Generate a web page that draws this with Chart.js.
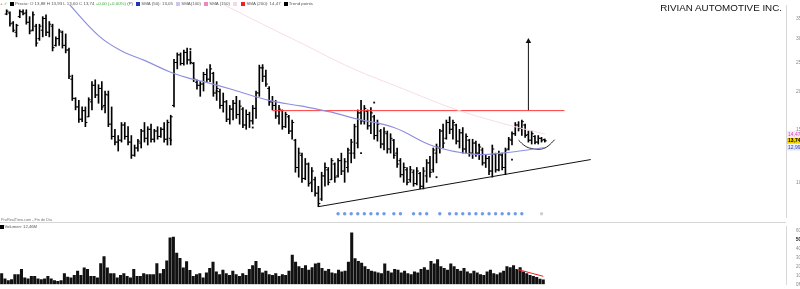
<!DOCTYPE html>
<html>
<head>
<meta charset="utf-8">
<script src="https://cdn.jsdelivr.net/npm/chart.js@4.4.1/dist/chart.umd.min.js"></script>
<style>
  html, body { margin: 0; padding: 0; background: #fff; }
  #wrap { position: relative; width: 800px; height: 289px; overflow: hidden; font-family: "Liberation Sans", Arial, sans-serif; }
  #price { position: absolute; left: 0; top: 0; }
  #volume { position: absolute; left: 0; top: 222px; }
  #sep { position: absolute; left: 0; top: 222px; width: 786px; height: 0; border-top: 1px solid #d6d6d6; }
  #title { position: absolute; right: 18px; top: 3px; font-size: 9.8px; line-height: 10px; color: #111; white-space: nowrap; }
  #legend { position: absolute; left: 0; top: 1px; font-size: 4.4px; line-height: 5px; color: #555; white-space: nowrap; }
  #legend .sq { display: inline-block; width: 4px; height: 4px; margin: 0 1px 0 2px; vertical-align: -0.5px; }
  #source { position: absolute; left: 1px; top: 218px; font-size: 3.8px; line-height: 4px; color: #777; white-space: nowrap; }
  #vollegend { position: absolute; left: 0; top: 224px; font-size: 4.2px; line-height: 5px; color: #555; white-space: nowrap; }
  #vollegend .sq { display: inline-block; width: 3.5px; height: 3.5px; background: #000; margin-right: 1px; vertical-align: -0.5px; }
</style>
</head>
<body>
<div id="wrap">
  <canvas id="price" width="800" height="222"></canvas>
  <canvas id="volume" width="800" height="67"></canvas>
  <div id="sep"></div>
  <div id="title">RIVIAN AUTOMOTIVE INC.</div>
  <div id="legend">
    <span style="color:#e33">+</span> <span style="color:#3a3">&#10003;</span>
    <span class="sq" style="background:#000"></span>Precio: O 13,88 H 13,93 L 13,60 C 13,74
    <span style="color:#3a3">+0,00 (+0,00%)</span> (P)
    <span class="sq" style="background:#2233bb"></span>SMA (50): 13,05
    <span class="sq" style="background:#c7c7ef"></span>SMA(100)
    <span class="sq" style="background:#ee88bb"></span>SMA (150)
    <span class="sq" style="background:#f8d6e2"></span>
    <span class="sq" style="background:#ee2222"></span>SMA (200): 14,47
    <span class="sq" style="background:#000"></span>Trend points
  </div>
  <div id="source">ProRealTime.com - Fin de Día</div>
  <div id="vollegend"><span class="sq"></span>Volumen: 12,46M</div>
</div>
<script>
// weekly bars, oldest first
const OPEN = [
  36.2, 36.5, 33.8, 31.5, 35.5, 36.8, 36.5, 34.0, 32.0, 33.0, 30.0, 32.0, 35.0, 31.5, 33.0, 28.5, 30.0, 31.5, 28.5, 27.5,
  22.0, 19.0, 17.8, 16.2, 17.3, 16.5, 18.5, 21.0, 19.5, 20.5, 18.0, 19.5, 15.6, 14.2, 13.6, 13.8, 15.5, 14.2, 13.6, 12.3,
  13.0, 13.5, 14.8, 14.0, 15.0, 13.9, 14.8, 14.2, 15.0, 13.9, 14.0, 18.0, 25.0, 26.5, 24.8, 27.0, 25.5, 24.8, 21.5, 21.0,
  21.2, 22.8, 22.0, 23.0, 19.8, 20.0, 18.0, 18.5, 16.2, 17.5, 18.3, 16.8, 17.5, 15.5, 16.8, 16.0, 17.6, 19.8, 24.0, 22.5,
  20.5, 18.5, 18.0, 16.6, 17.3, 15.3, 16.5, 14.8, 13.8, 11.2, 12.3, 10.3, 11.5, 10.0, 10.2, 9.2, 8.8, 10.5, 11.0, 10.2,
  11.5, 10.5, 11.8, 10.9, 11.2, 12.5, 12.5, 13.5, 17.0, 16.0, 17.2, 15.4, 16.5, 14.3, 14.8, 13.4, 14.5, 12.9, 13.8, 12.5,
  11.8, 10.6, 11.0, 10.2, 10.8, 9.9, 10.7, 9.7, 10.5, 11.6, 11.0, 12.5, 13.0, 14.8, 14.0, 15.8, 15.0, 15.5, 13.7, 14.6,
  12.9, 13.8, 12.5, 13.5, 12.5, 12.8, 11.6, 12.0, 10.9, 12.4, 11.0, 12.3, 11.2, 12.9, 13.8, 14.5, 15.5, 15.1, 15.5, 14.4,
  13.8, 14.2, 13.6, 14.0, 13.88
];
const HIGH = [
  37.4, 36.8, 34.2, 33.5, 37.4, 37.4, 37.4, 35.5, 36.8, 33.5, 33.5, 35.5, 36.0, 34.2, 33.5, 30.4, 32.3, 31.8, 31.1, 27.9,
  22.7, 19.1, 18.7, 17.8, 17.8, 19.1, 21.6, 21.9, 21.1, 21.6, 20.1, 20.1, 17.8, 15.0, 14.3, 15.8, 15.8, 15.3, 14.3, 13.3,
  13.9, 15.0, 15.8, 15.3, 15.6, 15.0, 15.3, 15.2, 15.8, 16.1, 16.7, 25.6, 26.9, 26.9, 27.5, 27.9, 27.3, 25.0, 21.9, 21.6,
  23.2, 23.8, 24.6, 23.2, 21.6, 20.4, 19.8, 18.7, 18.0, 18.7, 19.3, 18.7, 17.7, 17.4, 17.1, 18.0, 20.1, 24.5, 24.6, 23.6,
  20.8, 19.3, 18.7, 18.0, 17.4, 17.1, 16.7, 16.1, 13.9, 13.0, 12.5, 12.0, 11.6, 11.2, 10.4, 9.7, 10.8, 11.6, 11.2, 12.0,
  11.6, 12.0, 12.5, 12.0, 13.0, 13.9, 15.6, 17.4, 18.7, 18.0, 17.4, 17.7, 16.7, 16.1, 15.0, 15.2, 14.8, 14.5, 13.9, 13.0,
  12.0, 11.6, 11.2, 11.3, 11.0, 11.2, 10.8, 11.2, 11.9, 12.2, 13.0, 13.4, 15.0, 15.6, 16.1, 16.5, 16.1, 15.6, 15.0, 15.2,
  14.5, 13.9, 13.9, 13.7, 13.4, 13.0, 12.3, 12.2, 13.3, 12.5, 12.7, 12.5, 13.0, 14.1, 14.7, 15.8, 15.9, 16.1, 15.6, 14.8,
  14.8, 14.3, 14.3, 14.1, 13.93
];
const LOW = [
  36.0, 33.0, 31.6, 30.4, 35.2, 36.0, 33.5, 31.1, 31.8, 28.3, 29.6, 30.4, 30.7, 30.4, 27.3, 28.3, 28.5, 27.9, 26.9, 22.1,
  18.7, 17.4, 15.8, 15.9, 15.3, 16.5, 17.4, 19.1, 18.3, 17.4, 17.0, 15.3, 13.9, 13.3, 12.7, 13.6, 13.9, 13.3, 12.0, 12.2,
  12.7, 13.0, 13.6, 13.3, 13.6, 13.6, 13.9, 14.1, 13.6, 13.3, 13.3, 17.8, 23.8, 24.5, 24.5, 24.7, 24.7, 21.6, 20.4, 19.3,
  20.1, 21.6, 21.6, 19.3, 18.7, 17.6, 17.1, 15.9, 15.6, 16.1, 16.3, 15.6, 15.2, 15.0, 15.2, 15.6, 16.3, 19.3, 21.6, 20.8,
  18.0, 17.4, 16.3, 15.6, 15.0, 15.2, 14.5, 13.9, 10.8, 10.4, 10.0, 10.2, 9.7, 9.3, 9.0, 8.3, 8.7, 9.7, 9.8, 10.2,
  10.0, 10.4, 10.6, 10.0, 10.8, 11.6, 12.0, 13.0, 15.6, 15.6, 15.0, 14.5, 13.9, 13.7, 13.0, 12.8, 12.5, 12.5, 12.0, 11.2,
  10.4, 10.0, 9.8, 10.0, 9.7, 9.8, 9.5, 9.5, 10.0, 10.4, 10.8, 11.6, 12.5, 13.0, 13.9, 14.5, 13.9, 13.4, 13.0, 12.5,
  12.5, 12.2, 12.0, 12.2, 11.9, 11.4, 11.2, 10.6, 10.4, 10.8, 10.9, 11.0, 10.6, 12.8, 13.3, 14.3, 14.8, 14.3, 14.1, 13.6,
  13.4, 13.4, 13.4, 13.6, 13.60
];
const CLOSE = [
  37.0, 33.6, 32.0, 33.2, 36.9, 36.3, 34.0, 31.8, 36.0, 29.0, 33.0, 35.0, 31.5, 33.5, 28.0, 30.0, 31.8, 28.5, 27.5, 22.5,
  19.0, 17.8, 16.2, 17.3, 15.8, 18.8, 21.0, 19.5, 20.5, 17.8, 19.6, 15.6, 14.2, 13.6, 13.8, 15.5, 14.2, 13.6, 12.3, 13.0,
  13.7, 14.8, 14.0, 15.0, 13.9, 14.8, 14.2, 15.0, 13.9, 15.8, 16.5, 25.0, 26.5, 24.8, 27.0, 25.5, 25.0, 22.0, 21.0, 21.2,
  22.8, 22.0, 23.8, 19.8, 20.5, 18.0, 18.5, 16.2, 17.5, 18.3, 16.8, 17.9, 15.5, 16.8, 16.0, 17.6, 19.8, 24.0, 22.5, 21.2,
  18.5, 18.0, 16.6, 17.5, 15.3, 16.8, 14.8, 15.8, 11.2, 12.5, 10.3, 11.5, 9.9, 10.9, 9.2, 8.5, 10.5, 11.2, 10.0, 11.8,
  10.4, 11.8, 10.9, 11.7, 12.8, 13.6, 15.3, 17.0, 16.0, 17.6, 15.4, 17.0, 14.3, 15.6, 13.4, 14.7, 12.9, 14.0, 12.3, 11.5,
  10.6, 11.2, 10.0, 11.0, 9.9, 10.9, 9.7, 10.9, 11.6, 10.8, 12.8, 13.1, 14.8, 13.5, 15.8, 15.0, 15.8, 13.7, 14.6, 12.9,
  14.2, 12.5, 13.5, 12.5, 13.1, 11.6, 12.0, 10.9, 12.9, 11.0, 12.4, 11.2, 12.8, 13.9, 14.5, 15.5, 15.1, 15.9, 14.3, 13.8,
  14.5, 13.6, 14.0, 13.8, 13.74
];
// weekly volume, millions of shares
const VOLUME = [
  120, 62, 43, 53, 110, 110, 168, 72, 62, 91, 91, 62, 53, 62, 91, 62, 43, 34, 43, 120,
  82, 72, 101, 149, 101, 187, 168, 91, 91, 72, 235, 312, 187, 120, 120, 72, 101, 120, 91, 72,
  168, 91, 91, 120, 110, 110, 110, 235, 120, 168, 264, 524, 533, 351, 293, 187, 255, 159, 91, 110,
  120, 72, 130, 180, 250, 140, 110, 160, 120, 100, 150, 110, 90, 120, 100, 170, 210, 260, 180, 130,
  150, 110, 100, 120, 90, 110, 100, 150, 330, 250, 200, 180, 210, 160, 190, 230, 240, 180, 150, 170,
  130, 120, 160, 140, 150, 250, 580, 290, 260, 240, 200, 170, 150, 140, 130, 120, 230, 150, 130, 170,
  160, 130, 150, 120, 110, 140, 130, 170, 190, 160, 260, 230, 280, 200, 180, 160, 230, 200, 170, 150,
  180, 140, 120, 150, 130, 110, 100, 140, 160, 120, 110, 130, 150, 200, 190, 210, 170, 190, 140, 120,
  100, 90, 80, 60, 50
];
// moving averages as [bar index, value]
const SMA_BLUE = [[18, 40.2], [28, 30.7], [35, 27.3], [42, 25.4], [50, 23.2], [56, 22.1], [60, 21.6], [69, 20.3],
  [80, 18.7], [90, 17.9], [99, 17.1], [106, 16.3], [118, 15.2], [130, 13.2], [142, 12.4], [151, 12.5], [164, 13.05]];
const SMA_PINK = [[64, 40.0], [78, 33.5], [90, 28.9], [105, 24.0], [121, 20.4], [136, 17.6], [151, 15.7], [164, 14.47]];
const VOLUME_MA = [[156, 170], [164, 90]];
// drawn analysis
const RESISTANCE = [[81, 17.3], [170, 17.3]];
const SUPPORT = [[95, 8.3], [178, 11.9]];
const TARGET_ARROW = [[159, 17.3], [159, 29.4]];
const CUP = [[156, 13.8], [158, 13.2], [160, 12.95], [163, 12.9], [165, 13.2], [167, 13.85]];
const TREND_POINTS = [[50, 13.8], [56, 27.7], [64, 20.1], [75, 15.2], [78, 24.0], [108, 12.5], [112, 18.4], [131, 10.4], [144, 13.3], [154, 11.9]];
const EVENT_BARS = [101, 103, 105, 107, 109, 111, 113, 115, 118, 120, 124, 126, 128, 132, 135, 137, 139, 141, 143, 145, 147, 149, 151, 153, 155, 157];
const EVENT_LAST = [163];
const PRICE_TICKS = [10, 15, 20, 25, 30, 35];
const VOLUME_TICKS = [0, 100, 200, 300, 400, 500, 600];
const LAST_CLOSE = 13.74;

const SLOT_COUNT = 238;
const SLOTS = [];
for (let i = 0; i < SLOT_COUNT; i += 1) {
  const d = new Date(Date.UTC(2022, 7, 15) + i * 7 * 86400000);
  SLOTS.push(d.toISOString().slice(0, 10));
}

const toPoints = (pairs) => pairs.map(([i, v]) => ({ x: SLOTS[i], y: v }));
const fixedWidth = (w) => (scale) => { scale.width = w; };

const axisTagsPlugin = {
  id: "axisTags",
  afterDraw(chart) {
    const y = chart.scales.y;
    const ctx = chart.ctx;
    const left = chart.chartArea.right;
    const tag = (value, text, bg, fg, bold) => {
      const py = y.getPixelForValue(value);
      ctx.save();
      if (bg) {
        ctx.fillStyle = bg;
        ctx.fillRect(left + 1, py - 3, 13, 6);
      }
      ctx.fillStyle = fg;
      ctx.font = (bold ? "bold " : "") + "5px 'Liberation Sans', Arial";
      ctx.textBaseline = "middle";
      ctx.fillText(text, left + 2, py + 0.3);
      ctx.restore();
    };
    tag(14.47, "14,47", "#fbe6f3", "#d050b8", false);
    tag(13.05, "12,99", "#e1e7fa", "#3344bb", false);
    tag(LAST_CLOSE, "13,74", "#f2d400", "#000", true);
  }
};

const tick = (rotation) => ({
  showLine: false,
  pointStyle: "dash",
  pointRotation: rotation,
  pointRadius: 2,
  pointBorderWidth: 1,
  pointBorderColor: "#000",
  pointBackgroundColor: "#000"
});

new Chart(document.getElementById("price"), {
  type: "bar",
  plugins: [axisTagsPlugin],
  data: {
    labels: SLOTS,
    datasets: [
      { type: "line", data: toPoints(SMA_PINK), borderColor: "#f9dbe6", borderWidth: 1, pointRadius: 0, tension: 0.4 },
      { type: "line", data: toPoints(SMA_BLUE), borderColor: "#8f8fe0", borderWidth: 1.2, pointRadius: 0, tension: 0.4 },
      { type: "line", data: toPoints(RESISTANCE), borderColor: "#ff3b3b", borderWidth: 1, pointRadius: 0 },
      { type: "line", data: toPoints(SUPPORT), borderColor: "#111", borderWidth: 1, pointRadius: 0 },
      {
        type: "line", data: toPoints(TARGET_ARROW), borderColor: "#111", borderWidth: 1,
        pointRadius: [0, 3.2], pointStyle: "triangle", pointBackgroundColor: "#111", pointBorderColor: "#111", pointBorderWidth: 0
      },
      { type: "line", data: toPoints(CUP), borderColor: "#222", borderWidth: 1, pointRadius: 0, tension: 0.4 },
      { type: "bar", data: HIGH.map((h, i) => [LOW[i], h]), backgroundColor: "#000", barThickness: 1, grouped: false },
      { type: "line", data: OPEN, ...tick(180) },
      { type: "line", data: CLOSE, ...tick(0) },
      {
        type: "line", data: toPoints(TREND_POINTS), showLine: false,
        pointStyle: "rect", pointRadius: 1.3, pointBackgroundColor: "#111", pointBorderWidth: 0
      },
      {
        type: "line", data: toPoints(EVENT_BARS.map((i) => [i, 7.86])), showLine: false,
        pointStyle: "circle", pointRadius: 1.7, pointBackgroundColor: "#6f9be8", pointBorderWidth: 0
      },
      {
        type: "line", data: toPoints(EVENT_LAST.map((i) => [i, 7.86])), showLine: false,
        pointStyle: "circle", pointRadius: 1.7, pointBackgroundColor: "#cfcfcf", pointBorderWidth: 0
      }
    ]
  },
  options: {
    responsive: false,
    animation: false,
    events: [],
    layout: { padding: 0 },
    plugins: { legend: { display: false }, tooltip: { enabled: false } },
    scales: {
      x: { type: "category", display: false, offset: true },
      y: {
        type: "logarithmic",
        position: "right",
        min: 7.67,
        max: 38.8,
        grid: { display: false },
        border: { color: "#d8d8d8" },
        afterBuildTicks: (scale) => { scale.ticks = PRICE_TICKS.map((v) => ({ value: v })); },
        afterFit: fixedWidth(14),
        ticks: { color: "#888", font: { size: 5 }, padding: 2, callback: (v) => String(v) }
      }
    }
  }
});

new Chart(document.getElementById("volume"), {
  type: "bar",
  data: {
    labels: SLOTS,
    datasets: [
      { type: "line", data: toPoints(VOLUME_MA), borderColor: "#ee2222", borderWidth: 1, pointRadius: 0 },
      { type: "bar", data: VOLUME, backgroundColor: "#111", barThickness: 2.4, grouped: false }
    ]
  },
  options: {
    responsive: false,
    animation: false,
    events: [],
    layout: { padding: 0 },
    plugins: { legend: { display: false }, tooltip: { enabled: false } },
    scales: {
      x: { type: "category", display: false, offset: true },
      y: {
        position: "right",
        min: 0,
        max: 650,
        grid: { display: false },
        border: { color: "#d8d8d8" },
        afterBuildTicks: (scale) => { scale.ticks = VOLUME_TICKS.map((v) => ({ value: v })); },
        afterFit: fixedWidth(14),
        ticks: {
          color: (c) => (c.tick && c.tick.value === 500 ? "#000" : "#888"),
          font: (c) => ({ size: 4.5, weight: c.tick && c.tick.value === 500 ? "bold" : "normal" }),
          padding: 2,
          callback: (v) => v + "M"
        }
      }
    }
  }
});
</script>
</body>
</html>
